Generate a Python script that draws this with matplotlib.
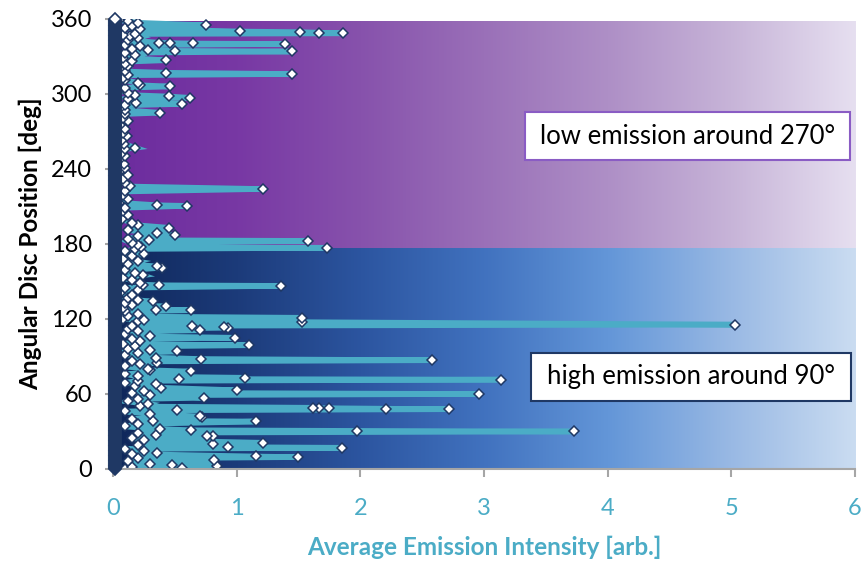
import numpy as np
import matplotlib
matplotlib.use('Agg')
import matplotlib.pyplot as plt
from matplotlib.colors import LinearSegmentedColormap
from matplotlib.patches import Rectangle

# angle [deg], average emission intensity [arb.]
angle = [359, 358, 357, 355, 354, 353, 352, 350, 349.5, 349, 348.5, 348, 347, 346, 345, 343,
         341, 340.7, 340.4, 340, 339, 338, 336, 335, 334.5, 334, 333, 331, 329, 327, 326, 324,
         322, 320, 318, 317, 316, 315, 313, 311, 309, 307, 306, 305, 303, 301, 299, 298, 297,
         296, 293, 292, 291, 289, 287, 285, 284, 281, 278, 275, 272, 269, 266, 263, 260, 257,
         256, 253, 250, 247, 244, 241, 238, 235, 232, 229, 226, 224, 222, 219, 216, 213, 211,
         210.5, 209, 206, 203, 200, 197, 195, 193, 191, 189, 187, 186, 184, 183, 182.5, 181,
         179, 177.5, 177, 176,
         174, 172, 170, 168, 166, 164, 162, 161, 159, 157, 155, 153, 151, 149, 147.5, 147,
         146.5, 145, 143, 141, 139, 137, 135, 134, 133, 131, 130, 129, 127.5, 127, 126, 124,
         122, 121, 120, 119, 118, 117.5, 115.5, 114.5, 114, 113.5, 113, 112, 111, 110, 108,
         106, 105, 104, 102, 100, 99, 98, 96, 95, 94, 93, 91, 89, 88, 87, 86, 85, 84, 82, 80,
         79, 78, 76, 74, 73, 72, 71.5, 70.5, 69, 68, 66, 65, 63, 62, 61, 60, 59, 57, 56, 54,
         52, 50, 49, 48.7, 48.5, 48.2, 47.8, 47, 46, 44, 42, 41.5, 40, 38.5, 38, 36, 34, 32,
         31, 30.5, 30, 29, 27, 26.5, 26, 25, 23, 21, 20, 19, 17.5, 17, 16, 14, 13, 12, 10,
         9.5, 8.5, 7, 6, 4, 3, 2.5, 1.5, 1, 0]
intensity = [0.05, 0.12, 0.2, 0.75, 0.15, 0.1, 0.22, 1.03, 1.51, 1.67, 1.86, 0.18, 0.08, 0.14, 0.2, 0.12,
             0.37, 0.46, 0.65, 1.39, 0.1, 0.22, 0.15, 0.28, 0.5, 1.45, 0.1, 0.18, 0.08, 0.43, 0.15, 0.1,
             0.12, 0.05, 0.1, 0.43, 1.45, 0.12, 0.08, 0.1, 0.2, 0.22, 0.46, 0.1, 0.05, 0.12, 0.18, 0.45, 0.62,
             0.12, 0.19, 0.56, 0.1, 0.06, 0.1, 0.38, 0.1, 0.08, 0.12, 0.06, 0.1, 0.08, 0.11, 0.07, 0.09, 0.18,
             0.1, 0.07, 0.1, 0.05, 0.09, 0.1, 0.06, 0.12, 0.08, 0.1, 0.14, 1.21, 0.1, 0.08, 0.12, 0.05, 0.36,
             0.6, 0.1, 0.08, 0.12, 0.07, 0.15, 0.2, 0.45, 0.12, 0.36, 0.5, 0.2, 0.12, 0.29, 1.58, 0.15,
             0.2, 0.23, 1.73, 0.18,
             0.1, 0.25, 0.15, 0.08, 0.2, 0.12, 0.36, 0.4, 0.1, 0.18, 0.24, 0.08, 0.15, 0.22, 0.24, 0.37,
             1.36, 0.1, 0.2, 0.06, 0.15, 0.12, 0.2, 0.32, 0.1, 0.15, 0.43, 0.08, 0.35, 0.63, 0.1, 0.2,
             0.12, 1.53, 0.08, 0.25, 0.2, 1.53, 5.03, 0.15, 0.64, 0.9, 0.93, 0.12, 0.7, 0.2, 0.1,
             0.3, 0.99, 0.15, 0.22, 0.08, 1.1, 0.18, 0.12, 0.3, 0.52, 0.2, 0.1, 0.35, 0.71, 2.58, 0.15, 0.36, 0.22, 0.1, 0.28,
             0.3, 0.63, 0.1, 0.2, 1.07, 0.53, 3.14, 0.2, 0.1, 0.35, 0.18, 0.39, 1.0, 0.25, 0.15, 2.96, 0.3, 0.74, 0.2, 0.12,
             0.28, 0.22, 1.62, 1.67, 1.75, 2.21, 2.72, 0.52, 0.1, 0.3, 0.7, 0.72, 0.15, 0.32, 1.16, 0.2, 0.1, 0.38,
             0.63, 1.97, 3.73, 0.2, 0.35, 0.76, 0.81, 0.15, 0.25, 1.21, 0.81, 0.2, 0.93, 1.85, 0.1, 0.25, 0.36, 0.15, 1.16,
             1.5, 0.2, 0.82, 0.12, 0.3, 0.48, 0.84, 0.15, 0.56, 0.1]

# readings that sit at zero intensity, one per half degree
zero_angle = np.arange(0, 360.5, 0.5)
zero_intensity = np.full(zero_angle.shape, 0.015)

navy = '#1f3864'
aqua = '#4bacc6'
font = 'Lato'

fig = plt.figure(figsize=(8.61, 5.62), dpi=100)
ax = fig.add_axes([0.1312, 0.1655, 0.8618, 0.8007])

# gradient backgrounds (lower half blue, upper half purple)
grad = np.linspace(0, 1, 256).reshape(1, -1)
cm_low = LinearSegmentedColormap.from_list('low', ['#0f275a', '#1c3b7a', '#2c55a0', '#4172bf', '#6396d8', '#99b9e4', '#cadcf1'])
cm_high = LinearSegmentedColormap.from_list('high', ['#6c2c9e', '#7838a4', '#8752ac', '#9a70b8', '#ae8fc6', '#c7b4d8', '#e6dff0'])
ax.imshow(grad, cmap=cm_low, extent=(0, 6, 0, 177), aspect='auto', zorder=0)
ax.imshow(grad, cmap=cm_high, extent=(0, 6, 177, 358), aspect='auto', zorder=0)

order = np.argsort(angle)
a = np.array(angle)[order]
v = np.array(intensity)[order]
ax.plot(v, a, '-', color=aqua, lw=4, marker='D', ms=5, mfc='white', mec=navy, mew=1.1,
        solid_joinstyle='miter', zorder=2)
ax.plot(zero_intensity, zero_angle, ls='none', marker='D', ms=6, mfc='white', mec=navy, mew=1.2,
        zorder=3, clip_on=False)

ax.set_xlim(0, 6)
ax.set_ylim(0, 360)
ax.set_xticks(range(0, 7))
ax.set_yticks(range(0, 361, 60))
for s in ['top', 'right']:
    ax.spines[s].set_visible(False)
for s in ['left', 'bottom']:
    ax.spines[s].set_color('#a6a6a6')
    ax.spines[s].set_linewidth(1.5)
ax.tick_params(axis='both', direction='out', length=6, color='#a6a6a6', width=1.5)
ax.tick_params(axis='x', labelsize=17, labelcolor=aqua, pad=15)
ax.tick_params(axis='y', labelsize=17, labelcolor='black', pad=9)
for lab in ax.get_xticklabels() + ax.get_yticklabels():
    lab.set_family(font)

ax.set_xlabel('Average Emission Intensity [arb.]', fontsize=17.5, fontweight='bold', color=aqua,
              family=font, labelpad=12)
ax.set_ylabel('Angular Disc Position [deg]', fontsize=17.5, fontweight='bold', color='black',
              family=font, labelpad=6)

# annotation boxes
ax.add_patch(Rectangle((3.33, 247), 2.63, 38.5, fc='white', ec='#8a5cc4', lw=1.5, zorder=5))
ax.text(4.645, 266, 'low emission around 270°', ha='center', va='center', fontsize=18.5,
        family=font, color='black', zorder=6)
ax.add_patch(Rectangle((3.38, 54.5), 2.59, 38.5, fc='white', ec=navy, lw=1.5, zorder=5))
ax.text(4.675, 74, 'high emission around 90°', ha='center', va='center', fontsize=18.5,
        family=font, color='black', zorder=6)

fig.savefig('out.png', dpi=100)
plt.close(fig)
